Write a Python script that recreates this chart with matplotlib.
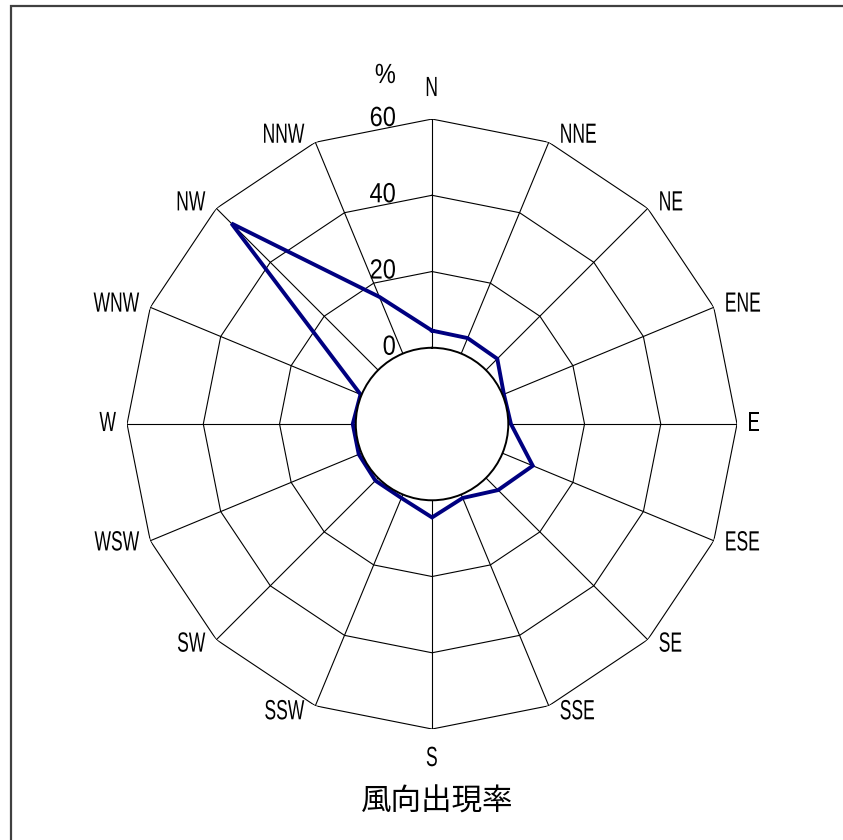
import matplotlib.pyplot as plt
import numpy as np
from matplotlib.patches import Rectangle
from matplotlib.patheffects import AbstractPathEffect
from matplotlib.transforms import Affine2D

# wind direction frequency (%), clockwise from north
DIRECTIONS = ["N", "NNE", "NE", "ENE", "E", "ESE", "SE", "SSE",
              "S", "SSW", "SW", "WSW", "W", "WNW", "NW", "NNW"]
FREQ = [4.5, 4.4, 4.2, 0.4, 0.7, 8.6, 4.5, 1.0,
        4.5, 1.0, 1.0, 0.8, 0.8, 0.3, 54.4, 16.1]
RINGS = [0, 20, 40, 60]
TITLE = "風向出現率"

LATIN = ["Liberation Sans", "DejaVu Sans"]
CJK = ["Noto Sans CJK JP", "DejaVu Sans"]


class Squeeze(AbstractPathEffect):
    """Narrow the glyphs horizontally (the original uses a condensed face)."""

    def __init__(self, sx, anchor="center"):
        super().__init__()
        self.sx = sx
        self.anchor = anchor

    def draw_path(self, renderer, gc, tpath, affine, rgbFace=None):
        verts = affine.transform(tpath.vertices)
        if len(verts):
            xmin, xmax = verts[:, 0].min(), verts[:, 0].max()
            cx = {"left": xmin, "right": xmax}.get(self.anchor, (xmin + xmax) / 2)
            affine = affine + Affine2D().translate(-cx, 0).scale(self.sx, 1).translate(cx, 0)
        renderer.draw_path(gc, tpath, affine, rgbFace)


def main():
    fig = plt.figure(figsize=(8.43, 8.40), dpi=100)
    ax = fig.add_axes([0.1507, 0.1321, 0.7236, 0.7262], projection="polar")
    ax.set_theta_zero_location("N")
    ax.set_theta_direction(-1)
    ax.set_rlim(0, 60)
    ax.set_rorigin(-20)
    ax.grid(False)
    ax.set_xticks([])
    ax.set_yticks([])
    ax.spines["polar"].set_visible(False)
    ax.spines["inner"].set_linewidth(1.4)
    ax.spines["inner"].set_color("black")
    ax.spines["inner"].set_zorder(4)

    theta = np.arange(len(DIRECTIONS)) * 2 * np.pi / len(DIRECTIONS)
    closed = np.append(theta, theta[0])

    # spokes
    for th in theta:
        ax.plot([th, th], [0, 60], color="black", lw=0.8, zorder=1)
    # polygon rings
    for r in RINGS[1:]:
        ax.plot(closed, [r] * len(closed), color="black", lw=0.8, zorder=1)

    vals = np.append(FREQ, FREQ[0])
    ax.plot(closed, vals, color="#000080", lw=2.8, zorder=3, solid_joinstyle="miter")

    # category labels sit just outside the outer vertex, Excel style
    for th, name in zip(theta, DIRECTIONS):
        s, c = np.sin(th), np.cos(th)
        if abs(s) < 0.1:
            ha = "center"
            va = "bottom" if c > 0 else "top"
            off = (0, 17 if c > 0 else -17)
        else:
            ha = "left" if s > 0 else "right"
            va = "center"
            off = (11 if s > 0 else -11, 7 * c)
        ax.annotate(name, (th, 60), xytext=off, textcoords="offset pixels",
                    ha=ha, va=va, fontsize=20, family=LATIN, annotation_clip=False,
                    path_effects=[Squeeze(0.63, ha)])

    for r in RINGS:
        ax.annotate(str(r), (0, r), xytext=(-36, 0), textcoords="offset pixels",
                    ha="right", va="center", fontsize=20, family=LATIN,
                    annotation_clip=False, path_effects=[Squeeze(0.85, "right")])
    ax.annotate("%", (0, 60), xytext=(-36, 43), textcoords="offset pixels",
                ha="right", va="center", fontsize=20, family=LATIN,
                annotation_clip=False, path_effects=[Squeeze(0.85, "right")])

    fig.text(0.519, 1 - 802 / 840, TITLE, ha="center", va="center",
             fontsize=22, family=CJK)

    fig.add_artist(Rectangle((10.7 / 843, -0.1), 1.2, 1 - 5.8 / 840 + 0.1,
                             transform=fig.transFigure, fill=False,
                             edgecolor="#404040", lw=1.6))

    fig.savefig("out.png", dpi=100)
    plt.close(fig)


if __name__ == "__main__":
    main()
